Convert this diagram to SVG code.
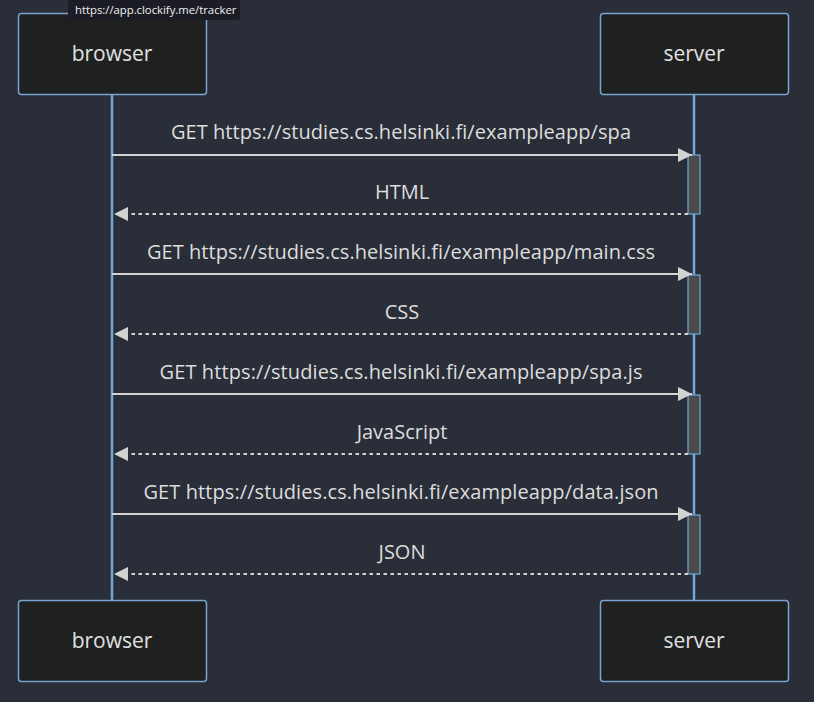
<svg xmlns="http://www.w3.org/2000/svg" width="814" height="702" viewBox="0 0 814 702">
<style>
.actor{fill:#1f2020;stroke:#7aa3cf;stroke-width:1.5}
.atext{fill:#e0e0e0;font-family:"Open Sans","DejaVu Sans",sans-serif;font-size:21px;text-anchor:middle;dominant-baseline:central}
.life{stroke:#6fa8dc;stroke-width:2.5}
.msg{stroke:#d3d3d3;stroke-width:2;fill:none}
.dash{stroke-dasharray:3.5,3.5}
.mtext{fill:#dddddd;font-family:"Open Sans","DejaVu Sans",sans-serif;font-size:20px;text-anchor:middle;dominant-baseline:central}
.act{fill:#4b4b4b;stroke:#6fa8dc;stroke-width:1.2}
.tip{fill:#1c1d24}
.tiptext{fill:#f0f0f0;font-family:"Open Sans","DejaVu Sans",sans-serif;font-size:11.3px}
</style>
<defs>
<marker id="arr" markerWidth="15" markerHeight="14" refX="14" refY="7" orient="auto" markerUnits="userSpaceOnUse">
<path d="M0,0 L14,7 L0,14 Z" fill="#d3d3d3"/>
</marker>
</defs>
<rect width="814" height="702" fill="#2a2e39"/>
<g id="lifelines">
<line class="life" x1="112" y1="94" x2="112" y2="600"/>
<line class="life" x1="694" y1="94" x2="694" y2="600"/>
</g>
<g id="browser-top"><rect class="actor" x="18.5" y="13.5" width="188" height="81" rx="3"/><text class="atext" x="112" y="53">browser</text></g>
<g id="server-top"><rect class="actor" x="600.5" y="13.5" width="188" height="81" rx="3"/><text class="atext" x="694" y="53">server</text></g>
<g id="browser-bottom"><rect class="actor" x="18.5" y="600.5" width="188" height="81" rx="3"/><text class="atext" x="112" y="640">browser</text></g>
<g id="server-bottom"><rect class="actor" x="600.5" y="600.5" width="188" height="81" rx="3"/><text class="atext" x="694" y="640">server</text></g>
<g id="activations">
<rect class="act" x="688" y="155" width="12" height="59"/>
<rect class="act" x="688" y="275" width="12" height="59"/>
<rect class="act" x="688" y="395" width="12" height="59"/>
<rect class="act" x="688" y="515" width="12" height="59"/>
</g>
<g id="connectors">
<line class="msg" x1="112" y1="155" x2="692" y2="155" marker-end="url(#arr)"/>
<line class="msg dash" x1="688" y1="214" x2="114" y2="214" marker-end="url(#arr)"/>
<line class="msg" x1="112" y1="274" x2="692" y2="274" marker-end="url(#arr)"/>
<line class="msg dash" x1="688" y1="334" x2="114" y2="334" marker-end="url(#arr)"/>
<line class="msg" x1="112" y1="394" x2="692" y2="394" marker-end="url(#arr)"/>
<line class="msg dash" x1="688" y1="454" x2="114" y2="454" marker-end="url(#arr)"/>
<line class="msg" x1="112" y1="514" x2="692" y2="514" marker-end="url(#arr)"/>
<line class="msg dash" x1="688" y1="574" x2="114" y2="574" marker-end="url(#arr)"/>
</g>
<g id="labels">
<text class="mtext" x="401" y="131" textLength="460" lengthAdjust="spacing">GET https://studies.cs.helsinki.fi/exampleapp/spa</text>
<text class="mtext" x="402" y="191">HTML</text>
<text class="mtext" x="401" y="251" textLength="508" lengthAdjust="spacing">GET https://studies.cs.helsinki.fi/exampleapp/main.css</text>
<text class="mtext" x="402" y="311">CSS</text>
<text class="mtext" x="401" y="371" textLength="483" lengthAdjust="spacing">GET https://studies.cs.helsinki.fi/exampleapp/spa.js</text>
<text class="mtext" x="402" y="431">JavaScript</text>
<text class="mtext" x="401" y="491" textLength="515" lengthAdjust="spacing">GET https://studies.cs.helsinki.fi/exampleapp/data.json</text>
<text class="mtext" x="402" y="551">JSON</text>
</g>
<g id="tooltip">
<rect class="tip" x="68" y="0" width="172" height="20" rx="3"/>
<text class="tiptext" x="75" y="14">https://app.clockify.me/tracker</text>
</g>
</svg>
